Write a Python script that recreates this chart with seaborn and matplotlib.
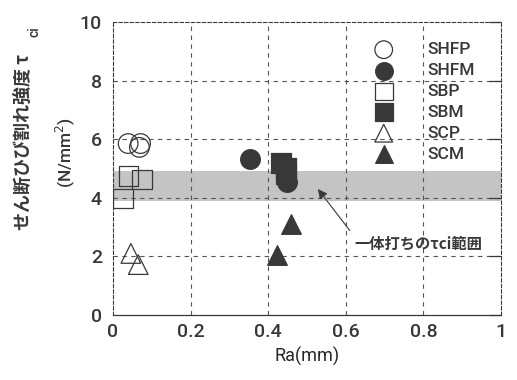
#shear cracking strength vs surface roughness
import matplotlib
matplotlib.use("Agg")
import matplotlib.pyplot as plt
import seaborn as sns
import pandas as pd

#data
series = ['SHFP', 'SHFM', 'SBP', 'SBM', 'SCP', 'SCM']
shfp_ra = [0.039, 0.071, 0.068]
shfp_tau = [5.85, 5.85, 5.72]
shfm_ra = [0.353, 0.448]
shfm_tau = [5.33, 4.55]
sbp_ra = [0.040, 0.075, 0.026]
sbp_tau = [4.75, 4.62, 3.98]
sbm_ra = [0.432, 0.445, 0.447]
sbm_tau = [5.2, 5.0, 4.8]
scp_ra = [0.046, 0.065]
scp_tau = [2.1, 1.72]
scm_ra = [0.458, 0.423]
scm_tau = [3.1, 2.05]
band = [3.88, 4.9]   #range for monolithic casting
xticks = [0, 0.2, 0.4, 0.6, 0.8, 1]
xtick_labels = ['0', '0.2', '0.4', '0.6', '0.8', '1']
yticks = [0, 2, 4, 6, 8, 10]

frames = []
for name, ra, tau in [('SHFP', shfp_ra, shfp_tau), ('SHFM', shfm_ra, shfm_tau),
                      ('SBP', sbp_ra, sbp_tau), ('SBM', sbm_ra, sbm_tau),
                      ('SCP', scp_ra, scp_tau), ('SCM', scm_ra, scm_tau)]:
    frames.append(pd.DataFrame({'Ra': ra, 'tau': tau, 'series': name}))
df = pd.concat(frames, ignore_index=True)

sns.set_style("white")
plt.rcParams['font.family'] = ['Roboto', 'Noto Sans CJK JP', 'DejaVu Sans']
plt.rcParams['font.weight'] = 'medium'
ink = '#383838'
plt.rcParams['text.color'] = ink
plt.rcParams['axes.edgecolor'] = ink
plt.rcParams['xtick.color'] = ink
plt.rcParams['ytick.color'] = ink
cjk = ['Noto Sans CJK JP', 'DejaVu Sans']

fig = plt.figure(figsize=(5.17, 3.80), dpi=100)
ax = fig.add_axes([0.2186, 0.1711, 0.7505, 0.7711])

#shaded band
ax.axhspan(band[0], band[1], color='#c4c4c4', lw=0, zorder=0)

#grid
for xv in xticks[1:-1]:
    ax.axvline(xv, color='#555555', lw=0.8, ls=(0, (4, 4)), zorder=0.5)
for yv in yticks[1:-1]:
    ax.axhline(yv, color='#555555', lw=0.8, ls=(0, (4, 4)), zorder=0.5)

markers = {'SHFP': 'o', 'SHFM': 'o', 'SBP': 's', 'SBM': 's', 'SCP': '^', 'SCM': '^'}
filled = {'SHFP': False, 'SHFM': True, 'SBP': False, 'SBM': True, 'SCP': False, 'SCM': True}
for name in series:
    sub = df[df['series'] == name]
    face = ink if filled[name] else 'none'
    sns.scatterplot(data=sub, x='Ra', y='tau', marker=markers[name], s=200,
                    color=ink, facecolor=face, edgecolor=ink, linewidth=0.9,
                    label=name, ax=ax, zorder=3)

ax.set_xlim(0, 1)
ax.set_ylim(0, 10)
ax.set_xticks(xticks)
ax.set_xticklabels(xtick_labels)
ax.set_yticks(yticks)
ax.tick_params(axis='both', direction='in', length=9, width=0.9, labelsize=14)
ax.tick_params(axis='y', right=True, pad=8)
ax.tick_params(axis='x', pad=6)
for side in ['left', 'top', 'right']:
    ax.spines[side].set_linestyle((0, (3, 2)))
    ax.spines[side].set_linewidth(0.8)
ax.spines['bottom'].set_linewidth(0.9)

ax.set_xlabel('Ra(mm)', fontsize=13)
ax.set_ylabel('')

leg = ax.legend(loc='upper left', bbox_to_anchor=(0.635, 0.955), frameon=False,
                fontsize=12.5, labelspacing=0.33, handletextpad=1.5, borderaxespad=0,
                markerscale=0.9)

ax.annotate('一体打ちのτci範囲', xy=(0.528, 4.3), xytext=(0.786, 2.42),
            fontsize=11, family=cjk, weight='bold',
            ha='center', va='center',
            arrowprops=dict(arrowstyle='-|>', color=ink, lw=0.8,
                            mutation_scale=14, relpos=(0, 1), shrinkA=2, shrinkB=0))

#y label: two lines, rotated
fig.text(0.046, (380 - 230) / 380, 'せん断ひび割れ強度 τ', rotation=90, ha='center', va='bottom',
         fontsize=13, family=cjk, weight='bold')
fig.text(0.066, (380 - 37) / 380, 'ci', rotation=90, ha='center', va='bottom', fontsize=10)
fig.text(0.126, (380 - 152) / 380, '(N/mm$^2$)', rotation=90, ha='center', va='center', fontsize=12.5)

fig.savefig('out.png', dpi=100)
